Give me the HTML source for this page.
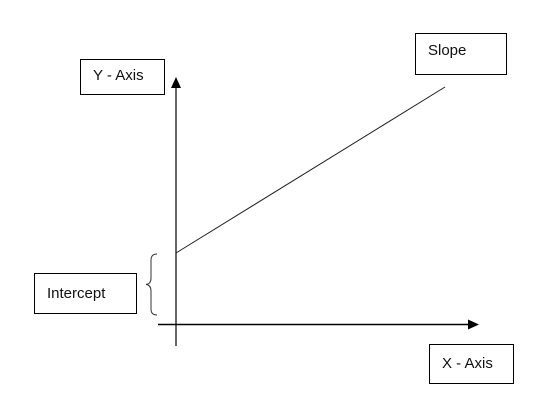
<!DOCTYPE html>
<html><head><style>
html,body{margin:0;padding:0;background:#fff;}
body{width:540px;height:415px;position:relative;overflow:hidden;font-family:"Liberation Sans",sans-serif;}
.b{position:absolute;border:1px solid #000;box-sizing:border-box;font-size:15px;color:#111;}
.b span{position:absolute;}
</style></head><body>
<svg width="540" height="415" style="position:absolute;left:0;top:0">
<line x1="176" y1="86" x2="176" y2="346" stroke="#333" stroke-width="1.5"/>
<polygon points="176,77 171,88 181,88" fill="#000"/>
<line x1="158" y1="324.5" x2="468" y2="324.5" stroke="#000" stroke-width="1.5"/>
<polygon points="479,324.5 468,319.5 468,329.5" fill="#000"/>
<line x1="176" y1="253" x2="445" y2="87" stroke="#222" stroke-width="1"/>
<path d="M157,254 Q151,254 151,260 L151,278 Q151,284 146,284.5 Q151,285 151,291 L151,309 Q151,315 157,315" fill="none" stroke="#333" stroke-width="1"/>
</svg>
<div class="b" style="left:80px;top:59px;width:85px;height:36px"><span style="left:12px;top:7px">Y - Axis</span></div>
<div class="b" style="left:415px;top:33px;width:92px;height:42px"><span style="left:12px;top:8px">Slope</span></div>
<div class="b" style="left:34px;top:273px;width:103px;height:41px"><span style="left:12px;top:11px">Intercept</span></div>
<div class="b" style="left:429px;top:344px;width:85px;height:40px"><span style="left:12px;top:10px">X - Axis</span></div>
</body></html>
